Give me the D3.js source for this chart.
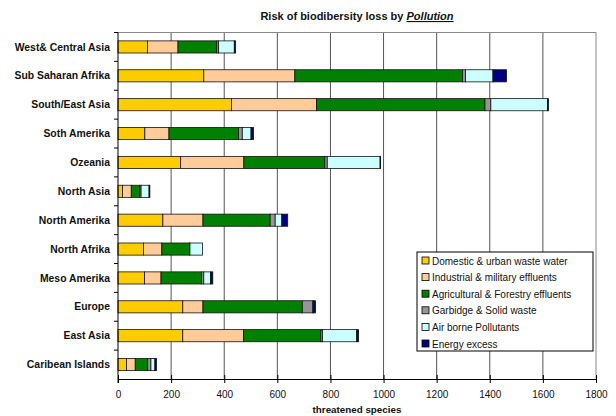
<!DOCTYPE html>
<html><head><meta charset="utf-8">
<script src="https://cdnjs.cloudflare.com/ajax/libs/d3/7.8.5/d3.min.js"></script>
<style>body{margin:0;background:#fff}svg{display:block;font-family:"Liberation Sans",Arial,sans-serif}</style>
</head><body><svg id="c" width="616" height="416"></svg>
<script>
const categories = ["West& Central Asia","Sub Saharan Afrika","South/East Asia","Soth Amerika","Ozeania","North Asia","North Amerika","North Afrika","Meso Amerika","Europe","East Asia","Caribean Islands"];
const seriesNames = ["Domestic & urban waste water","Industrial & military effluents","Agricultural & Forestry effluents","Garbidge & Solid waste","Air borne Pollutants","Energy excess"];
const domestic   = [111,323,427,101,236,17,169,96,100,244,244,32];
const industrial = [115,343,321,91,238,33,151,69,62,76,229,33];
const agricult   = [146,631,634,262,305,33,253,104,153,374,291,47];
const garbage    = [7,12,22,14,9,4,19,2,8,39,6,12];
const airborne   = [59,103,213,33,199,30,25,47,26,3,129,15];
const energy     = [5,51,4,9,2,3,22,0,8,8,7,6];
const xTicks = [0,200,400,600,800,1000,1200,1400,1600,1800];
const colors = ["#FFCC00","#FFCC99","#008000","#969696","#CCFFFF","#000080"];

const seriesVals = [domestic,industrial,agricult,garbage,airborne,energy];
const rows = categories.map((c,i)=>{const o={cat:c}; seriesNames.forEach((s,j)=>o[s]=seriesVals[j][i]); return o;});
const stack = d3.stack().keys(seriesNames)(rows);

const svg = d3.select("#c");
const L=118, R=596, T=32.5, B=379;
const x = d3.scaleLinear().domain([0,1800]).range([L,R]);
const y = d3.scaleBand().domain(categories).range([T,B]).paddingInner(0.58).paddingOuter(0.29);

// gridlines
svg.append("g").selectAll("line").data(xTicks.slice(1)).join("line")
  .attr("x1",d=>x(d)).attr("x2",d=>x(d)).attr("y1",T).attr("y2",B)
  .attr("stroke",d=>d===1800?"#888":"#555").attr("stroke-width",1);
svg.append("line").attr("x1",L).attr("x2",R).attr("y1",T).attr("y2",T).attr("stroke","#888");

// bars
svg.append("g").selectAll("g").data(stack).join("g")
  .attr("fill",(d,i)=>colors[i])
  .selectAll("rect").data(d=>d.filter(p=>p[1]-p[0]>0)).join("rect")
  .attr("x",d=>x(d[0])).attr("width",d=>x(d[1])-x(d[0]))
  .attr("y",d=>y(d.data.cat)).attr("height",y.bandwidth())
  .attr("stroke","#111").attr("stroke-width",0.8);

// x axis
const xa = svg.append("g").attr("transform",`translate(0,${B})`)
  .call(d3.axisBottom(x).tickValues(xTicks).tickFormat(d3.format("d")).tickSize(5).tickSizeOuter(0));
xa.select(".domain").attr("stroke","#000");
xa.selectAll("line").attr("stroke","#000").attr("y2",-4).attr("y1",4);
xa.selectAll("text").attr("font-size",10).attr("dy","1.1em").attr("fill","#111").attr("font-family","Liberation Sans, Arial, sans-serif");

// y axis
const bandStep = (B-T)/categories.length;
const ya = svg.append("g");
ya.append("line").attr("x1",L).attr("x2",L).attr("y1",T).attr("y2",B+4).attr("stroke","#000");
ya.selectAll("line.t").data(d3.range(categories.length)).join("line").attr("class","t")
  .attr("x1",L-4).attr("x2",L).attr("y1",i=>T+i*bandStep).attr("y2",i=>T+i*bandStep).attr("stroke","#000");
ya.selectAll("text").data(categories).join("text")
  .attr("x",110).attr("y",d=>y(d)+y.bandwidth()/2).attr("dy","0.35em")
  .attr("text-anchor","end").attr("font-size",10.4).attr("font-weight","bold").attr("fill","#111").text(d=>d);

// title
const title = svg.append("text").attr("x",357).attr("y",20).attr("text-anchor","middle")
  .attr("font-size",11).attr("font-weight","bold").attr("fill","#111");
title.append("tspan").text("Risk of biodibersity loss by ");
title.append("tspan").attr("font-style","italic").attr("text-decoration","underline").text("Pollution");

// x title
svg.append("text").attr("x",357).attr("y",413).attr("text-anchor","middle")
  .attr("font-size",9.8).attr("font-weight","bold").attr("fill","#111").text("threatened species");

// legend
const lg = svg.append("g").attr("transform","translate(417,252)");
lg.append("rect").attr("width",176).attr("height",99).attr("fill","#fff").attr("stroke","#000");
const it = lg.selectAll("g").data(seriesNames).join("g").attr("transform",(d,i)=>`translate(5,${9+i*16.6})`);
it.append("rect").attr("x",0).attr("y",-4).attr("width",7).attr("height",7).attr("fill",(d,i)=>colors[i]).attr("stroke","#000").attr("stroke-width",0.8);
it.append("text").attr("x",10).attr("y",0).attr("dy","0.35em").attr("font-size",10).attr("fill","#111").text(d=>d);
</script></body></html>
